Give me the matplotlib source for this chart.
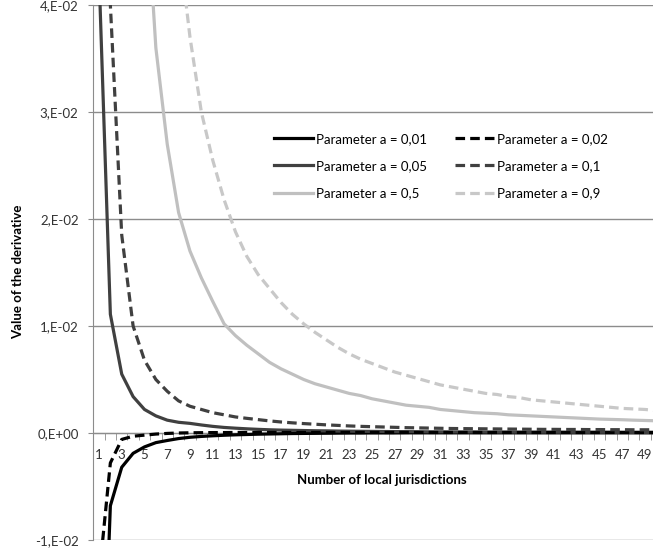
import matplotlib
matplotlib.use('Agg')
import matplotlib.pyplot as plt

plt.rcParams['font.family'] = ['Lato', 'DejaVu Sans']

n = list(range(1, 51))

# values (points above 0,04 or below -0,01 are only rough)
a_001 = [-0.035, -0.0068, -0.0032, -0.0019, -0.0013, -0.0009, -0.0007, -0.00052, -0.0004, -0.00032,
         -0.00026, -0.00021, -0.00017, -0.00014, -0.00011, -0.00009, -0.00007, -0.00005, -0.00004, -0.00003,
         -0.00002, -0.00001, 0.0, 0.0, 0.00001, 0.00001, 0.00001, 0.00002, 0.00002, 0.00002,
         0.00002, 0.00002, 0.00002, 0.00002, 0.00002, 0.00002, 0.00002, 0.00002, 0.00002, 0.00002,
         0.00002, 0.00002, 0.00002, 0.00002, 0.00002, 0.00002, 0.00002, 0.00002, 0.00002, 0.00002]
a_002 = [-0.0135, -0.0028, -0.0006, -0.0003, -0.0002, -0.0001, -0.00004, 0.0, 0.00002, 0.00003,
         0.00004, 0.00004, 0.00005, 0.00005, 0.00005, 0.00005, 0.00005, 0.00005, 0.00005, 0.00005,
         0.00005, 0.00005, 0.00005, 0.00005, 0.00005, 0.00005, 0.00005, 0.00005, 0.00005, 0.00005,
         0.00005, 0.00005, 0.00005, 0.00005, 0.00005, 0.00005, 0.00005, 0.00005, 0.00005, 0.00005,
         0.00005, 0.00005, 0.00005, 0.00005, 0.00005, 0.00005, 0.00005, 0.00005, 0.00005, 0.00005]
a_005 = [0.043, 0.0111, 0.0055, 0.0034, 0.0022, 0.0016, 0.0012, 0.0010, 0.0009, 0.00075,
         0.00062, 0.00052, 0.00045, 0.00039, 0.00034, 0.0003, 0.00027, 0.00025, 0.00023, 0.00021,
         0.0002, 0.00018, 0.00017, 0.00016, 0.00015, 0.00014, 0.00013, 0.00013, 0.00012, 0.00011,
         0.00011, 0.0001, 0.0001, 0.0001, 0.00009, 0.00009, 0.00009, 0.00008, 0.00008, 0.00008,
         0.00008, 0.00007, 0.00007, 0.00007, 0.00007, 0.00007, 0.00006, 0.00006, 0.00006, 0.00006]
a_01 = [0.15, 0.040, 0.0185, 0.0100, 0.0068, 0.0050, 0.0039, 0.0030, 0.0025, 0.0022,
        0.0019, 0.0017, 0.0015, 0.00137, 0.00125, 0.00113, 0.00103, 0.00095, 0.00088, 0.00082,
        0.00076, 0.00071, 0.00066, 0.00062, 0.00059, 0.00056, 0.00053, 0.0005, 0.00048, 0.00046,
        0.00044, 0.00042, 0.00041, 0.0004, 0.00039, 0.00038, 0.00037, 0.00036, 0.00035, 0.00034,
        0.00034, 0.00033, 0.00033, 0.00032, 0.00032, 0.00031, 0.00031, 0.0003, 0.0003, 0.0003]
a_05 = [1.4, 0.36, 0.16, 0.09, 0.053, 0.036, 0.027, 0.0206, 0.0170, 0.0145,
        0.0123, 0.0102, 0.0091, 0.0082, 0.0074, 0.0066, 0.0060, 0.0055, 0.0050, 0.0046,
        0.0043, 0.0040, 0.0037, 0.0035, 0.0032, 0.0030, 0.0028, 0.0026, 0.0025, 0.0024,
        0.0022, 0.0021, 0.0020, 0.0019, 0.00185, 0.0018, 0.0017, 0.00165, 0.0016, 0.00155,
        0.0015, 0.00145, 0.0014, 0.00135, 0.0013, 0.00127, 0.00124, 0.0012, 0.00117, 0.00114]
a_09 = [4.0, 1.0, 0.45, 0.25, 0.16, 0.11, 0.075, 0.046, 0.037, 0.030,
        0.0255, 0.0218, 0.0188, 0.0165, 0.0148, 0.0135, 0.0122, 0.0111, 0.0102, 0.0094,
        0.0087, 0.0080, 0.0074, 0.0069, 0.0065, 0.0061, 0.0057, 0.0054, 0.0051, 0.0048,
        0.0045, 0.0043, 0.0041, 0.0039, 0.0037, 0.0036, 0.0034, 0.0033, 0.0031, 0.0030,
        0.0029, 0.0028, 0.0027, 0.0026, 0.0025, 0.0024, 0.0023, 0.00225, 0.0022, 0.0021]

y_ticks = [-0.01, 0.0, 0.01, 0.02, 0.03, 0.04]
y_tick_labels = ['-1,E-02', '0,E+00', '1,E-02', '2,E-02', '3,E-02', '4,E-02']
x_tick_labels = [str(i) for i in range(1, 50, 2)]

fig = plt.figure(figsize=(6.53, 5.54), dpi=100)
ax = fig.add_axes([93.3 / 653, 14 / 554, (662 - 93.3) / 653, 535 / 554])

grid_col = '#8c8c8c'
dash = (3, 1.6)
lw = 2.3
fs = 9.5

# column-wise legend order: solid column first, dashed column second
ax.plot(n, a_001, color='black', lw=lw, label='Parameter a = 0,01')
ax.plot(n, a_005, color='#404040', lw=lw, label='Parameter a = 0,05')
ax.plot(n, a_05, color='#c0c0c0', lw=lw, label='Parameter a = 0,5')
ax.plot(n, a_002, color='black', lw=lw, ls=(0, dash), label='Parameter a = 0,02')
ax.plot(n, a_01, color='#404040', lw=lw, ls=(0, dash), label='Parameter a = 0,1')
ax.plot(n, a_09, color='#c8c8c8', lw=lw, ls=(0, dash), label='Parameter a = 0,9')

ax.set_xlim(0.5, 50.5)
ax.set_ylim(-0.01, 0.04)
ax.set_yticks(y_ticks)
ax.set_yticklabels(y_tick_labels)
ax.set_xticks(range(1, 50, 2))
ax.set_xticklabels(x_tick_labels)
ax.set_xticks([i + 0.5 for i in range(0, 51)], minor=True)

ax.grid(axis='y', color=grid_col, lw=1)
ax.set_axisbelow(True)
for side in ['top', 'right']:
    ax.spines[side].set_visible(False)
ax.spines['left'].set_color(grid_col)
ax.spines['bottom'].set_color(grid_col)
ax.spines['bottom'].set_position(('data', 0))
ax.spines['bottom'].set_zorder(1)

ax.tick_params(axis='x', which='major', length=0, pad=11.5, labelsize=fs, colors='#333333')
ax.tick_params(axis='x', which='minor', length=5, color=grid_col, direction='out')
ax.tick_params(axis='y', length=3.6, color=grid_col, labelsize=fs, labelcolor='#333333', pad=7)

fig.text(382 / 653, 1 - 480 / 554, 'Number of local jurisdictions', ha='center', va='center',
         fontsize=fs, fontweight='bold')
fig.text(18 / 653, 1 - 272 / 554, 'Value of the derivative', ha='center', va='center',
         rotation=90, fontsize=fs, fontweight='bold')

ax.legend(ncol=2, frameon=False, fontsize=fs, loc='upper left',
          bbox_to_anchor=((262 - 93.3) / (662 - 93.3), (433 - 121 + 107) / 535),
          handlelength=3.0, handletextpad=0.2, columnspacing=2.1, labelspacing=1.15)

fig.savefig('out.png', dpi=100)
